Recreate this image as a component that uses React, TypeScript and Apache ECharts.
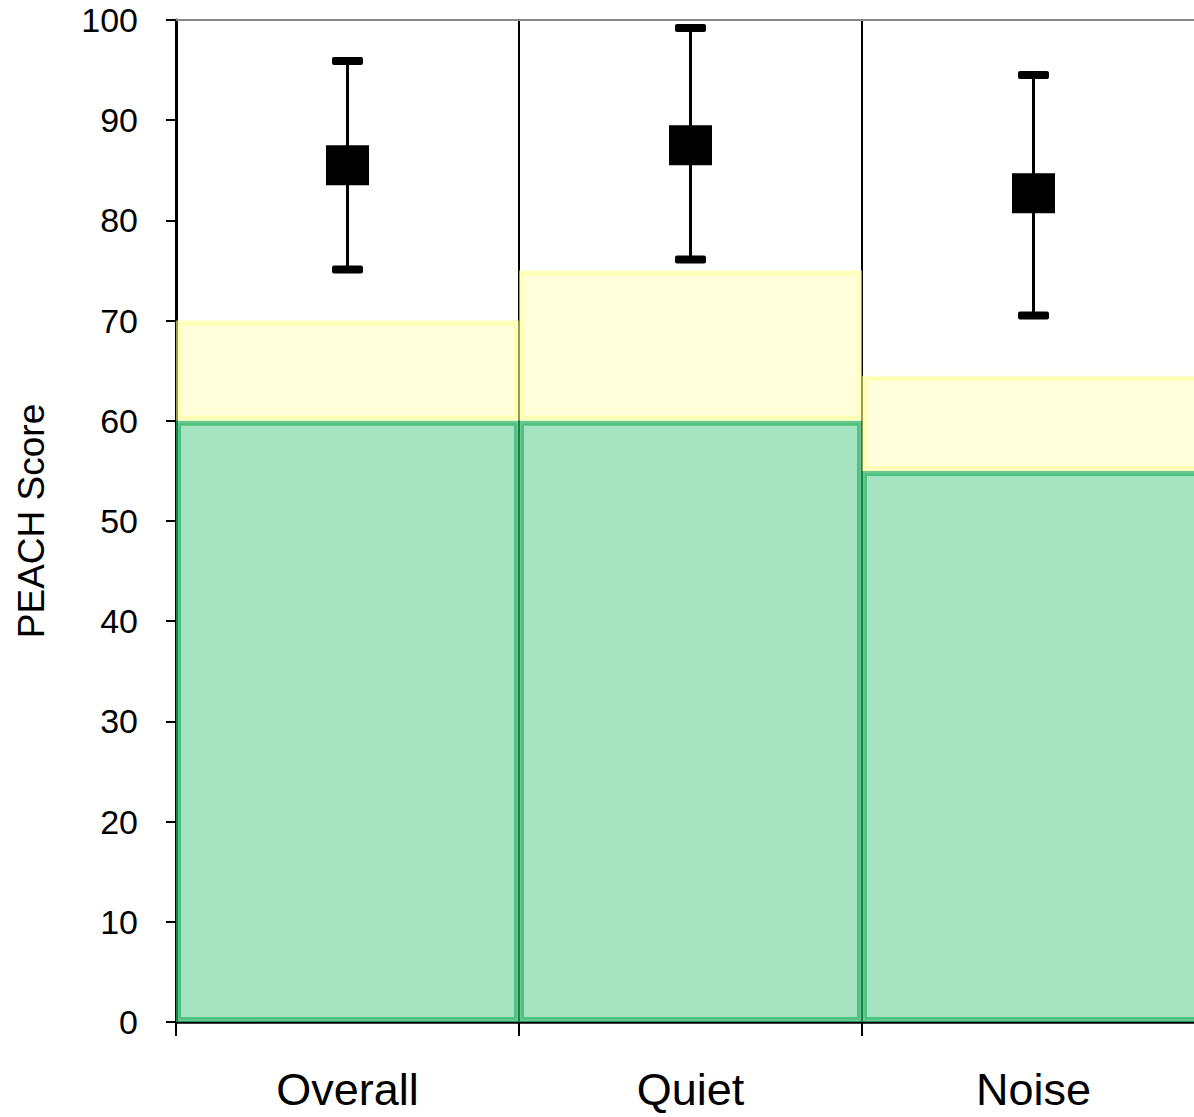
import React, { useEffect, useRef } from "react";
import * as echarts from "echarts";

const categories = ["Overall", "Quiet", "Noise"];
const greenTop = [60, 60, 55];
const yellowTop = [70, 75, 64.5];
const means = [85.5, 87.5, 82.7];
const upper = [95.9, 99.2, 94.5];
const lower = [75.1, 76.1, 70.5];
const yTicks = { min: 0, max: 100, interval: 10 };

export default function App() {
  const ref = useRef<HTMLDivElement>(null);
  useEffect(() => {
    if (!ref.current) return;
    const chart = echarts.init(ref.current, null, { renderer: "svg" });
    const yellowDiff = yellowTop.map((v, i) => +(v - greenTop[i]).toFixed(2));
    const errData = categories.map((_, i) => [i, lower[i], upper[i]]);
    const font = "Liberation Sans, Arial, sans-serif";
    chart.setOption({
      animation: false,
      backgroundColor: "#ffffff",
      grid: { left: 176, top: 20, width: 1029, height: 1002, outerBoundsMode: "none", containLabel: false },
      xAxis: [
        {
          type: "category",
          data: categories,
          boundaryGap: true,
          axisLine: { show: true, lineStyle: { color: "#000", width: 2.5 } },
          axisTick: { show: true, length: 14, lineStyle: { color: "#000", width: 2 } },
          axisLabel: { color: "#000", fontSize: 45, fontFamily: font, margin: 45 },
          splitLine: { show: true, lineStyle: { color: "#000", width: 2 } },
        },
        {
          type: "category",
          data: categories,
          position: "top",
          axisLine: { show: true, lineStyle: { color: "#888", width: 2 } },
          axisTick: { show: false },
          axisLabel: { show: false },
          splitLine: { show: false },
        },
      ],
      yAxis: {
        type: "value",
        min: yTicks.min,
        max: yTicks.max,
        interval: yTicks.interval,
        name: "PEACH Score",
        nameLocation: "middle",
        nameGap: 126,
        nameTextStyle: { color: "#000", fontSize: 37, fontFamily: font },
        axisLine: { show: true, lineStyle: { color: "#000", width: 3 } },
        axisTick: { show: true, length: 10, lineStyle: { color: "#000", width: 2 } },
        axisLabel: { color: "#000", fontSize: 34, fontFamily: font, margin: 38 },
        splitLine: { show: false },
      },
      series: [
        {
          type: "bar",
          stack: "band",
          data: greenTop,
          barWidth: "100%",
          barCategoryGap: "0%",
          itemStyle: {
            color: "rgba(77,199,131,0.5)",
            borderColor: "rgba(40,180,100,0.7)",
            borderWidth: 5,
          },
        },
        {
          type: "bar",
          stack: "band",
          data: yellowDiff,
          barWidth: "100%",
          barCategoryGap: "0%",
          itemStyle: {
            color: "rgba(255,255,185,0.5)",
            borderColor: "rgba(255,255,150,0.6)",
            borderWidth: 5,
          },
        },
        {
          type: "custom",
          data: errData,
          z: 5,
          renderItem: (params: any, api: any) => {
            const x = api.value(0);
            const lo = api.coord([x, api.value(1)]);
            const hi = api.coord([x, api.value(2)]);
            const cx = lo[0];
            const capW = 31;
            const capH = 8;
            return {
              type: "group",
              children: [
                {
                  type: "line",
                  shape: { x1: cx, y1: lo[1], x2: cx, y2: hi[1] },
                  style: { stroke: "#000", lineWidth: 3 },
                },
                {
                  type: "rect",
                  shape: { x: cx - capW / 2, y: hi[1] - capH / 2, width: capW, height: capH, r: 2 },
                  style: { fill: "#000" },
                },
                {
                  type: "rect",
                  shape: { x: cx - capW / 2, y: lo[1] - capH / 2, width: capW, height: capH, r: 2 },
                  style: { fill: "#000" },
                },
              ],
            };
          },
        },
        {
          type: "scatter",
          data: means,
          symbol: "rect",
          symbolSize: [43, 40],
          itemStyle: { color: "#000", opacity: 1 },
          z: 6,
        },
      ],
    });
    return () => chart.dispose();
  }, []);
  return (
    <div style={{ position: "absolute", left: 0, top: 0, width: 1194, height: 1117, overflow: "hidden" }}>
      <div ref={ref} style={{ width: 1212, height: 1117 }} />
    </div>
  );
}
